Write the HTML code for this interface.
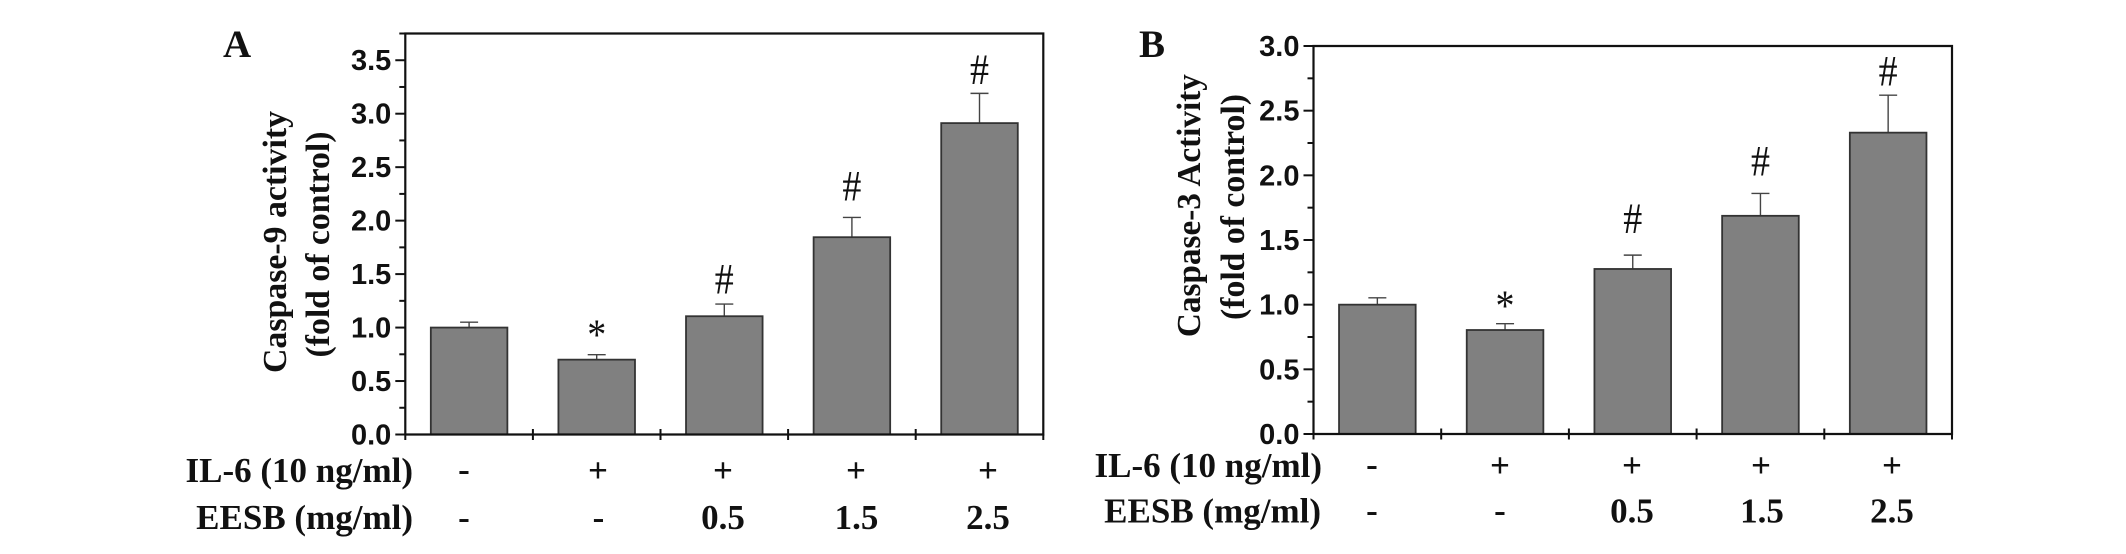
<!DOCTYPE html>
<html lang="en">
<head>
<meta charset="utf-8">
<title>Caspase activity bar charts</title>
<style>
html,body{margin:0;padding:0;background:#fff;}
svg{display:block;}
.tick{font-family:"Liberation Sans",sans-serif;font-weight:bold;font-size:29px;fill:#111;}
.serif{font-family:"Liberation Serif",serif;font-weight:bold;fill:#111;}
.title{font-size:33.5px;}
.row{font-size:35px;}
.panel{font-size:39px;}
.mark{font-family:"Liberation Serif",serif;font-size:38px;fill:#111;}
</style>
</head>
<body>
<svg id="fig" xmlns="http://www.w3.org/2000/svg" width="2126" height="554" viewBox="0 0 2126 554">
  <rect x="0" y="0" width="2126" height="554" fill="#fff"/>

  <text class="serif panel" x="223" y="57">A</text>
  <text class="serif title" transform="translate(286,242) rotate(-90)" text-anchor="middle" textLength="262" lengthAdjust="spacingAndGlyphs">Caspase-9 activity</text>
  <text class="serif title" transform="translate(329,244.500) rotate(-90)" text-anchor="middle" textLength="226" lengthAdjust="spacingAndGlyphs">(fold of control)</text>
  <g id="chartA"></g>
  <g class="serif row" text-anchor="middle">
    <text x="413" y="482" text-anchor="end">IL-6 (10 ng/ml)</text>
    <text x="464" y="481">-</text>
    <text x="598" y="482">+</text>
    <text x="723" y="482">+</text>
    <text x="856" y="482">+</text>
    <text x="988" y="482">+</text>
    <text x="413" y="529" text-anchor="end">EESB (mg/ml)</text>
    <text x="464" y="529">-</text>
    <text x="598.500" y="529">-</text>
    <text x="723" y="529">0.5</text>
    <text x="856.500" y="529">1.5</text>
    <text x="988" y="529">2.5</text>
  </g>

  <text class="serif panel" x="1139" y="57">B</text>
  <text class="serif title" transform="translate(1200,205.600) rotate(-90)" text-anchor="middle" textLength="263" lengthAdjust="spacingAndGlyphs">Caspase-3 Activity</text>
  <text class="serif title" transform="translate(1244,207) rotate(-90)" text-anchor="middle" textLength="226" lengthAdjust="spacingAndGlyphs">(fold of control)</text>
  <g id="chartB"></g>
  <g class="serif row" text-anchor="middle">
    <text x="1322" y="477" text-anchor="end">IL-6 (10 ng/ml)</text>
    <text x="1372" y="476">-</text>
    <text x="1500" y="477">+</text>
    <text x="1632" y="477">+</text>
    <text x="1761" y="477">+</text>
    <text x="1892" y="477">+</text>
    <text x="1321" y="522.500" text-anchor="end">EESB (mg/ml)</text>
    <text x="1372" y="522">-</text>
    <text x="1500" y="522">-</text>
    <text x="1632" y="522.500">0.5</text>
    <text x="1762" y="522.500">1.5</text>
    <text x="1892" y="522.500">2.5</text>
  </g>
</svg>
<script>
var categories = ['control', 'il6', 'eesb-low', 'eesb-mid', 'eesb-high'];
var markers = ['', '*', '#', '#', '#'];

var valuesA = [1.0, 0.70, 1.106, 1.845, 2.912];
var errorTopsA = [1.05, 0.746, 1.22, 2.03, 3.19];
var markerLevelsA = [0, 0.80, 1.32, 2.19, 3.28];
var tickLabelsA = ['0.0', '0.5', '1.0', '1.5', '2.0', '2.5', '3.0', '3.5'];
var yMaxA = 3.75;

var valuesB = [1.0, 0.804, 1.276, 1.687, 2.33];
var errorTopsB = [1.053, 0.853, 1.383, 1.86, 2.62];
var markerLevelsB = [0, 0.88, 1.553, 1.998, 2.696];
var tickLabelsB = ['0.0', '0.5', '1.0', '1.5', '2.0', '2.5', '3.0'];
var yMaxB = 3.0;

var NS = 'http://www.w3.org/2000/svg';

function make(parent, tag, attrs) {
  var el = document.createElementNS(NS, tag);
  for (var k in attrs) el.setAttribute(k, attrs[k]);
  parent.appendChild(el);
  return el;
}

function drawChart(root, prefix, box, values, errorTops, markerLevels, tickLabels, yMax) {
  var yScale = function (v) { return box.bottom - (v / yMax) * (box.bottom - box.top); };
  var band = (box.right - box.left) / categories.length;
  var xCenter = function (i) { return box.left + band * (i + 0.5); };
  var barWidth = band * 0.6;
  var i, el;

  for (i = 0; i < categories.length; i++) {
    var cx = xCenter(i);

    el = make(root, 'line', {x1: cx, x2: cx, y1: yScale(values[i]), y2: yScale(errorTops[i]), stroke: '#444', 'stroke-width': 1.4});
    
    

    el = make(root, 'line', {x1: cx - 9, x2: cx + 9, y1: yScale(errorTops[i]), y2: yScale(errorTops[i]), stroke: '#444', 'stroke-width': 1.4});
    
    

    el = make(root, 'rect', {x: cx - barWidth / 2, y: yScale(values[i]), width: barWidth, height: box.bottom - yScale(values[i]), fill: '#808080', stroke: '#333', 'stroke-width': 1.8});
    
    

    if (markers[i]) {
      el = make(root, 'text', {transform: 'translate(' + cx + ',' + yScale(markerLevels[i]) + ') scale(1,1.15)', 'text-anchor': 'middle', 'class': 'mark'});
      el.textContent = markers[i];
      
      
    }
  }

  var frame = make(root, 'path', {
    d: 'M' + box.left + ' ' + box.bottom + 'V' + box.top + 'H' + box.right + 'V' + box.bottom + 'H' + box.left,
    fill: 'none', stroke: '#111', 'stroke-width': 2.2
  });
  
  

  for (i = 0; i <= categories.length; i++) {
    var tx = box.left + band * i;
    el = make(root, 'line', {x1: tx, x2: tx, y1: box.bottom - (i === 0 || i === categories.length ? 0 : 5.5), y2: box.bottom + 5.5, stroke: '#111', 'stroke-width': 2});
    
    
  }

  for (var t = 0; t <= yMax / 0.25 + 0.001; t++) {
    var val = t * 0.25;
    var major = t % 2 === 0;
    el = make(root, 'line', {x1: box.left - (major ? 10 : 6), x2: box.left, y1: yScale(val), y2: yScale(val), stroke: '#111', 'stroke-width': 2});
    
    
  }

  for (i = 0; i < tickLabels.length; i++) {
    el = make(root, 'text', {x: box.left - 14, y: yScale(parseFloat(tickLabels[i])) + 10, 'text-anchor': 'end', 'class': 'tick'});
    el.textContent = tickLabels[i];
    
    
  }
}

drawChart(document.getElementById('chartA'), 'panel-a', {left: 405.3, right: 1043.3, top: 33.5, bottom: 434.5}, valuesA, errorTopsA, markerLevelsA, tickLabelsA, yMaxA);
drawChart(document.getElementById('chartB'), 'panel-b', {left: 1313.5, right: 1952, top: 46, bottom: 434}, valuesB, errorTopsB, markerLevelsB, tickLabelsB, yMaxB);
</script>
</body>
</html>
